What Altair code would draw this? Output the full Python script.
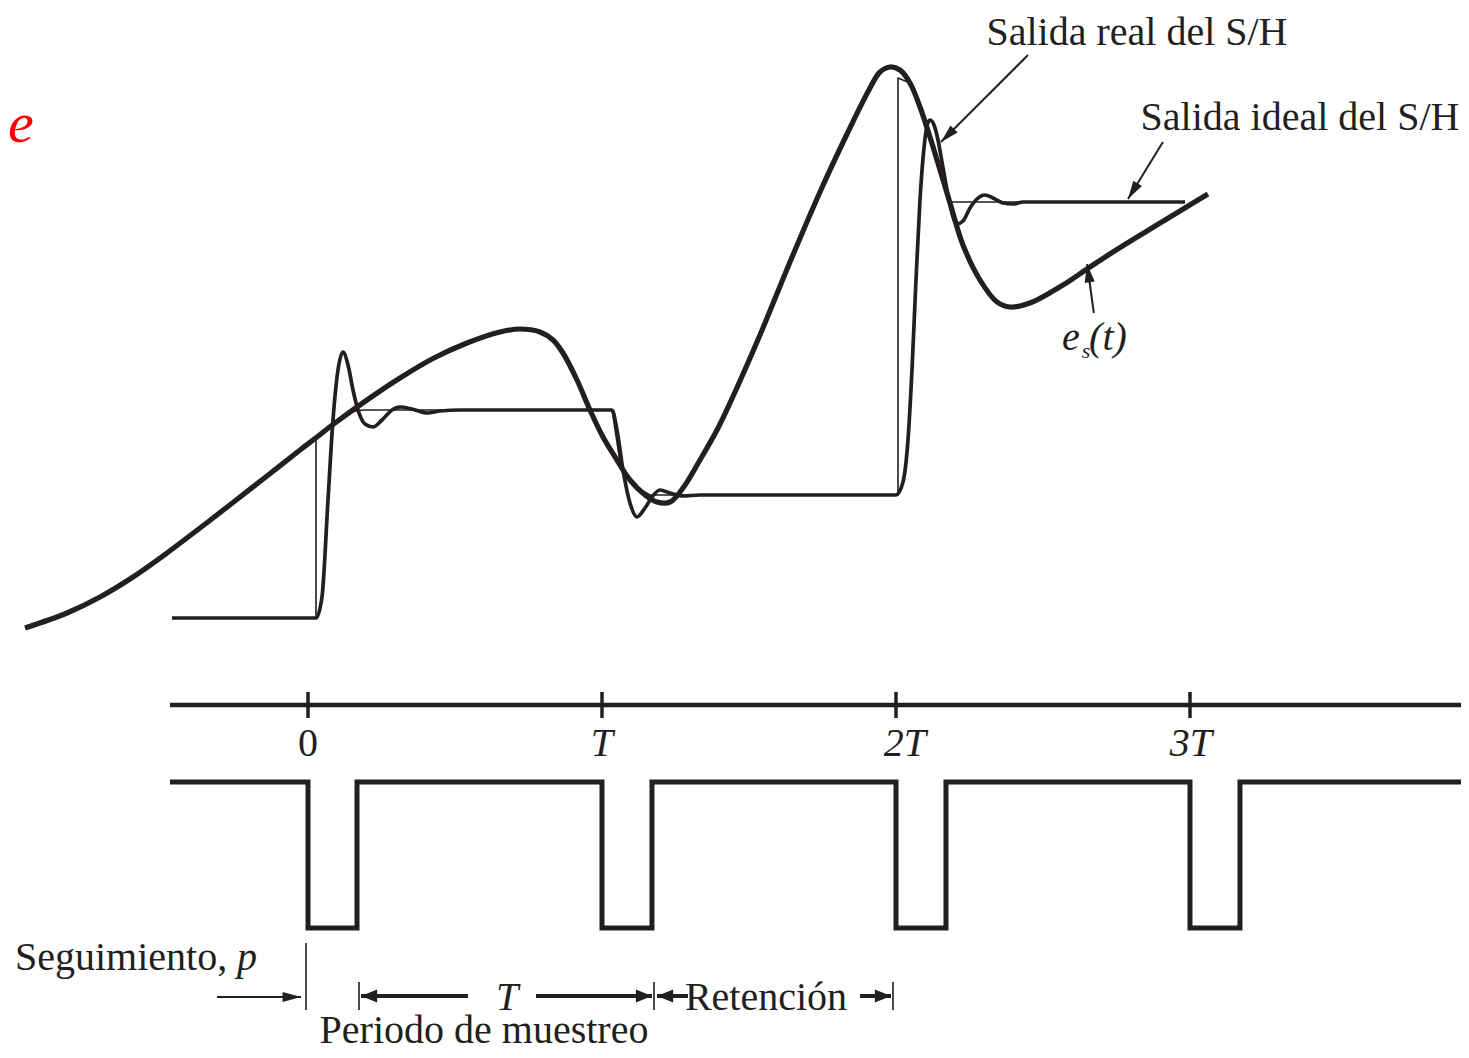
import altair as alt
import pandas as pd

# ---- data (time in units of T, amplitude in arbitrary units) ----
es_t = [-0.9626, -0.8197, -0.7075, -0.5952, -0.4796, -0.3673, -0.2551, -0.1395, -0.0272, 0.0306,
        0.0850, 0.2007, 0.3129, 0.4252, 0.5408, 0.6531, 0.7211, 0.7891, 0.8333, 0.8673,
        0.9150, 0.9592, 1.0034, 1.0510, 1.0952, 1.1463, 1.1871, 1.2313, 1.2755, 1.3333,
        1.3912, 1.4354, 1.5374, 1.6395, 1.7415, 1.8367, 1.9116, 1.9456, 1.9796, 2.0136,
        2.0476, 2.0816, 2.1156, 2.1497, 2.1837, 2.2279, 2.2857, 2.3435, 2.3878, 2.4558,
        2.5680, 2.6497, 2.7381, 2.8537, 2.9660, 3.0612]
es_v = [-0.10, 0.05, 0.21, 0.41, 0.65, 0.90, 1.155, 1.42, 1.68, 1.81,
        1.935, 2.18, 2.40, 2.595, 2.75, 2.86, 2.89, 2.86, 2.78, 2.65,
        2.38, 2.08, 1.81, 1.58, 1.38, 1.23, 1.16, 1.16, 1.30, 1.58,
        1.88, 2.15, 2.83, 3.56, 4.26, 4.86, 5.30, 5.46, 5.51, 5.48,
        5.35, 5.11, 4.81, 4.48, 4.15, 3.73, 3.38, 3.16, 3.11, 3.15,
        3.33, 3.49, 3.66, 3.87, 4.07, 4.24]

real_t = [-0.4626, 0.0272, 0.0476, 0.0680, 0.0850, 0.1020, 0.1190, 0.1361, 0.1531, 0.1701,
          0.1939, 0.2211, 0.2517, 0.2857, 0.3129, 0.3537, 0.4048, 0.4490, 0.5170, 1.0340,
          1.0510, 1.0714, 1.0952, 1.1190, 1.1463, 1.1701, 1.1973, 1.2313, 1.2755, 1.3333,
          2.0000, 2.0238, 2.0408, 2.0544, 2.0680, 2.0816, 2.0952, 2.1054, 2.1156, 2.1293,
          2.1429, 2.1565, 2.1735, 2.1905, 2.2075, 2.2279, 2.2517, 2.2755, 2.3027, 2.3299,
          2.3639, 2.3980, 2.4320, 2.9830]
real_v = [0.00, 0.00, 0.21, 1.18, 1.98, 2.48, 2.66, 2.53, 2.28, 2.08,
          1.94, 1.91, 1.98, 2.08, 2.11, 2.09, 2.05, 2.07, 2.08, 2.08,
          1.88, 1.48, 1.15, 1.01, 1.10, 1.21, 1.28, 1.25, 1.22, 1.23,
          1.23, 1.36, 1.78, 2.48, 3.38, 4.18, 4.70, 4.92, 4.98, 4.93,
          4.78, 4.56, 4.28, 4.05, 3.94, 3.97, 4.10, 4.19, 4.23, 4.20,
          4.15, 4.14, 4.16, 4.16]

ideal_t = [-0.4626, 0.0272, 0.0272, 0.0850, 0.1429, 0.1871, 1.0340, 1.0612, 1.1054, 1.1633,
           2.0068, 2.0068, 2.0476, 2.0816, 2.1156, 2.1497, 2.1769, 2.9830]
ideal_v = [0.00, 0.00, 1.80, 1.94, 2.06, 2.08, 2.08, 1.56, 1.33, 1.23,
           1.23, 5.40, 5.35, 5.11, 4.81, 4.48, 4.16, 4.16]

pulse_t = [-0.4694, 0.0, 0.0, 0.1667, 0.1667, 1.0, 1.0, 1.17, 1.17, 2.0, 2.0, 2.17, 2.17,
           3.0, 3.0, 3.17, 3.17, 3.949]
pulse_v = [-1.64, -1.64, -3.10, -3.10, -1.64, -1.64, -3.10, -3.10, -1.64, -1.64, -3.10, -3.10, -1.64,
           -1.64, -3.10, -3.10, -1.64, -1.64]

axis_t = [-0.4694, 3.949]
axis_v = -0.87
tick_t = [0, 1, 2, 3]
tick_v0, tick_v1 = -0.74, -1.00
tick_text = ["0", "T", "2T", "3T"]
tick_text_t = [0.0, 1.0, 2.0306, 3.0034]
tick_text_v = -1.38

ann_tail_t = [2.449, 2.908, 2.673, -0.3095]
ann_tail_v = [5.63, 4.76, 3.05, -3.79]
ann_tip_t = [2.153, 2.789, 2.650, -0.0238]
ann_tip_v = [4.76, 4.19, 3.54, -3.79]
ann_angle = [225, 211.6, 351.9, 90]

dim_tail_t = [0.5442, 0.7755, 1.2925, 1.8776]
dim_tip_t = [0.1803, 1.1701, 1.1871, 1.9830]
dim_v = -3.78
dim_angle = [270, 90, 270, 90]

marker_t = [-0.0068, 0.1735, 1.1769, 1.9898]
marker_v0 = [-3.25, -3.64, -3.64, -3.64]
marker_v1 = [-3.92, -3.92, -3.92, -3.92]

roman_text = ["Salida real del S/H", "Salida ideal del S/H", "Retención", "Periodo de muestreo"]
roman_t = [2.8197, 3.3741, 1.5578, 0.5986]
roman_v = [5.73, 4.88, -3.92, -4.25]

ital_text = ["T", "p", "e", "(t)"]
ital_t = [0.6769, -0.2075, 2.5952, 2.7211]
ital_v = [-3.92, -3.52, 2.68, 2.68]

INK = "#231f20"
SERIF = "Liberation Serif"

X = alt.X("t:Q", scale=alt.Scale(domain=[-1.0204, 3.9218], nice=False, zero=False), axis=None)
Y = alt.Y("v:Q", scale=alt.Scale(domain=[-4.30, 6.10], nice=False, zero=False), axis=None)


def path_df(ts, vs):
    return pd.DataFrame({"t": ts, "v": vs, "i": list(range(len(ts)))})


def line(ts, vs, width, interp="linear", join="round"):
    return alt.Chart(path_df(ts, vs)).mark_line(
        color=INK, strokeWidth=width, interpolate=interp, strokeJoin=join, strokeCap="butt"
    ).encode(x=X, y=Y, order="i:Q")


es_line = line(es_t, es_v, 5.2, "catmull-rom")
real_line = line(real_t, real_v, 3.7, "monotone")
ideal_line = line(ideal_t, ideal_v, 1.6)
pulse_line = line(pulse_t, pulse_v, 5, join="miter")

axis_df = pd.DataFrame({"t": [axis_t[0]], "t2": [axis_t[1]], "v": [axis_v]})
axis_rule = alt.Chart(axis_df).mark_rule(color=INK, strokeWidth=4.5).encode(
    x=X, x2="t2:Q", y=Y)

ticks_df = pd.DataFrame({"t": tick_t, "v": [tick_v0] * 4, "v2": [tick_v1] * 4})
ticks = alt.Chart(ticks_df).mark_rule(color=INK, strokeWidth=3.5).encode(x=X, y=Y, y2="v2:Q")

tl_df = pd.DataFrame({"t": tick_text_t, "v": [tick_text_v] * 4, "txt": tick_text,
                      "style": ["normal", "italic", "italic", "italic"]})
tick_labels_n = alt.Chart(tl_df[tl_df["style"] == "normal"]).mark_text(
    font=SERIF, fontSize=40, align="center", baseline="alphabetic", color=INK
).encode(x=X, y=Y, text="txt:N")
tick_labels_i = alt.Chart(tl_df[tl_df["style"] == "italic"]).mark_text(
    font=SERIF, fontSize=40, fontStyle="italic", align="center", baseline="alphabetic", color=INK
).encode(x=X, y=Y, text="txt:N")

ARROW = "M0,0L-0.55,2L0.55,2Z"
ARROW_BOLD = "M0,0L-0.8,2L0.8,2Z"

ann_df = pd.DataFrame({"t": ann_tail_t, "v": ann_tail_v, "t2": ann_tip_t, "v2": ann_tip_v})
ann_shafts = alt.Chart(ann_df).mark_rule(color=INK, strokeWidth=2).encode(
    x=X, y=Y, x2="t2:Q", y2="v2:Q")
ann_heads_df = pd.DataFrame({"t": ann_tip_t, "v": ann_tip_v, "a": ann_angle})
ann_heads = alt.Chart(ann_heads_df).mark_point(
    shape=ARROW, filled=True, size=340, color=INK, opacity=1, strokeWidth=0
).encode(x=X, y=Y, angle=alt.Angle("a:Q", scale=None))

dim_df = pd.DataFrame({"t": dim_tail_t, "t2": dim_tip_t, "v": [dim_v] * 4})
dim_shafts = alt.Chart(dim_df).mark_rule(color=INK, strokeWidth=4).encode(x=X, x2="t2:Q", y=Y)
dim_heads_df = pd.DataFrame({"t": dim_tip_t, "v": [dim_v] * 4, "a": dim_angle})
dim_heads = alt.Chart(dim_heads_df).mark_point(
    shape=ARROW_BOLD, filled=True, size=260, color=INK, opacity=1, strokeWidth=0
).encode(x=X, y=Y, angle=alt.Angle("a:Q", scale=None))

mk_df = pd.DataFrame({"t": marker_t, "v": marker_v0, "v2": marker_v1})
markers = alt.Chart(mk_df).mark_rule(color=INK, strokeWidth=1.6).encode(x=X, y=Y, y2="v2:Q")

roman_df = pd.DataFrame({"t": roman_t, "v": roman_v, "txt": roman_text})
roman = alt.Chart(roman_df).mark_text(
    font=SERIF, fontSize=40, align="center", baseline="alphabetic", color=INK
).encode(x=X, y=Y, text="txt:N")

seg_df = pd.DataFrame({"t": [-0.9966], "v": [-3.52], "txt": ["Seguimiento,"]})
seg = alt.Chart(seg_df).mark_text(
    font=SERIF, fontSize=40, align="left", baseline="alphabetic", color=INK
).encode(x=X, y=Y, text="txt:N")

ital_df = pd.DataFrame({"t": ital_t, "v": ital_v, "txt": ital_text})
ital = alt.Chart(ital_df).mark_text(
    font=SERIF, fontSize=40, fontStyle="italic", align="center", baseline="alphabetic", color=INK
).encode(x=X, y=Y, text="txt:N")

sub_df = pd.DataFrame({"t": [2.6463], "v": [2.60], "txt": ["s"]})
sub = alt.Chart(sub_df).mark_text(
    font=SERIF, fontSize=22, fontStyle="italic", align="center", baseline="alphabetic", color=INK
).encode(x=X, y=Y, text="txt:N")

red_df = pd.DataFrame({"t": [-0.9762], "v": [4.76], "txt": ["e"]})
red_e = alt.Chart(red_df).mark_text(
    font=SERIF, fontSize=58, fontStyle="italic", align="center", baseline="alphabetic", color="#ff0000"
).encode(x=X, y=Y, text="txt:N")

chart = alt.layer(
    axis_rule, ticks, pulse_line, ideal_line, real_line, es_line,
    ann_shafts, ann_heads, dim_shafts, dim_heads, markers,
    tick_labels_n, tick_labels_i, roman, seg, ital, sub, red_e,
).properties(
    width=1453, height=1040, padding=0,
    autosize=alt.AutoSizeParams(type="none"),
    background="white",
).configure_view(stroke=None)

chart.save("out.html", embed_options={"renderer": "svg", "actions": False})
